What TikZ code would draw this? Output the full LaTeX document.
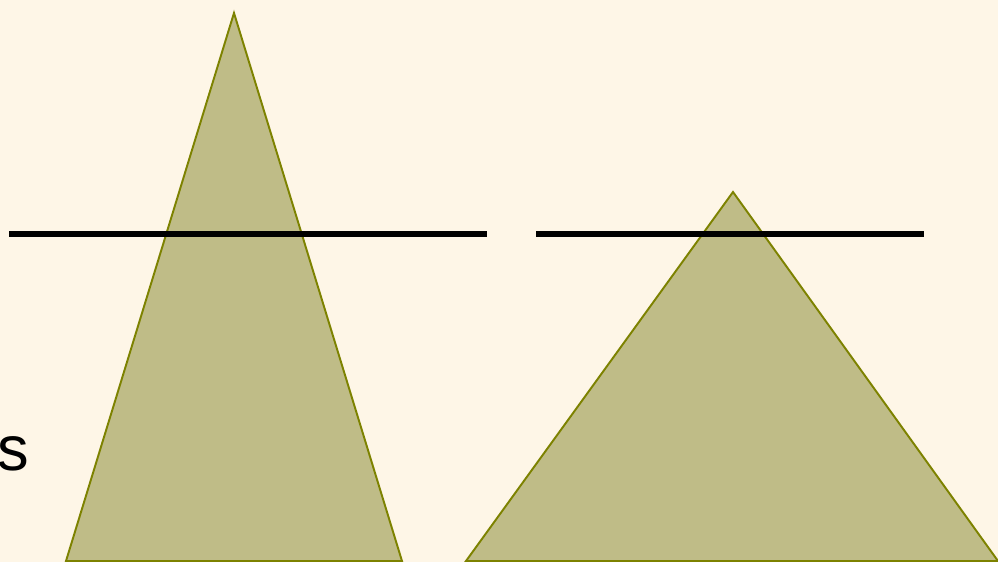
\documentclass[tikz,border=0pt]{standalone}
\usepackage{fontspec}
\setmainfont{Liberation Sans}
\usetikzlibrary{
	positioning,
	calc
}
\definecolor{cream}{HTML}{FEF6E7}
\definecolor{olivefill}{HTML}{BFBC87}
\definecolor{olivedraw}{HTML}{7D8200}

\begin{document}
\begin{tikzpicture}[
		x=0.02cm, y=-0.02cm,
		cone/.style={draw=olivedraw, fill=olivefill, line width=1.1pt, line join=miter},
		level/.style={draw=black, line width=3.8pt},
		letter/.style={inner sep=0pt, anchor=base west, font=\fontsize{36}{40}\selectfont}
		]
		
		% =========================
		% Canvas
		% =========================
		\fill[cream] (0,0) rectangle (998,562);
		\useasboundingbox (0,0) rectangle (998,562);
		
		% =========================
		% Triangles
		% =========================
		\coordinate (tallapex) at (234,13);
		\coordinate (talleft)  at (66,561);
		\coordinate (tallright) at (402,561);
		\draw[cone] (tallapex) -- (tallright) -- (talleft) -- cycle;
		
		\coordinate (wideapex) at (733,192);
		\coordinate (wideleft)  at (466,561);
		\coordinate (wideright) at (998,561);
		\draw[cone] (wideapex) -- (wideright) -- (wideleft) -- cycle;
		
		% =========================
		% Horizontal levels
		% =========================
		\coordinate (lvlA) at (9,234);
		\coordinate (lvlB) at (487,234);
		\coordinate (lvlC) at (536,234);
		\coordinate (lvlD) at (924,234);
		\draw[level] (lvlA) -- (lvlB);
		\draw[level] (lvlC) -- (lvlD);
		
		% =========================
		% Cut-off text
		% =========================
		\node[letter] (tail) at (-3,470) {s};
		
	\end{tikzpicture}
\end{document}
